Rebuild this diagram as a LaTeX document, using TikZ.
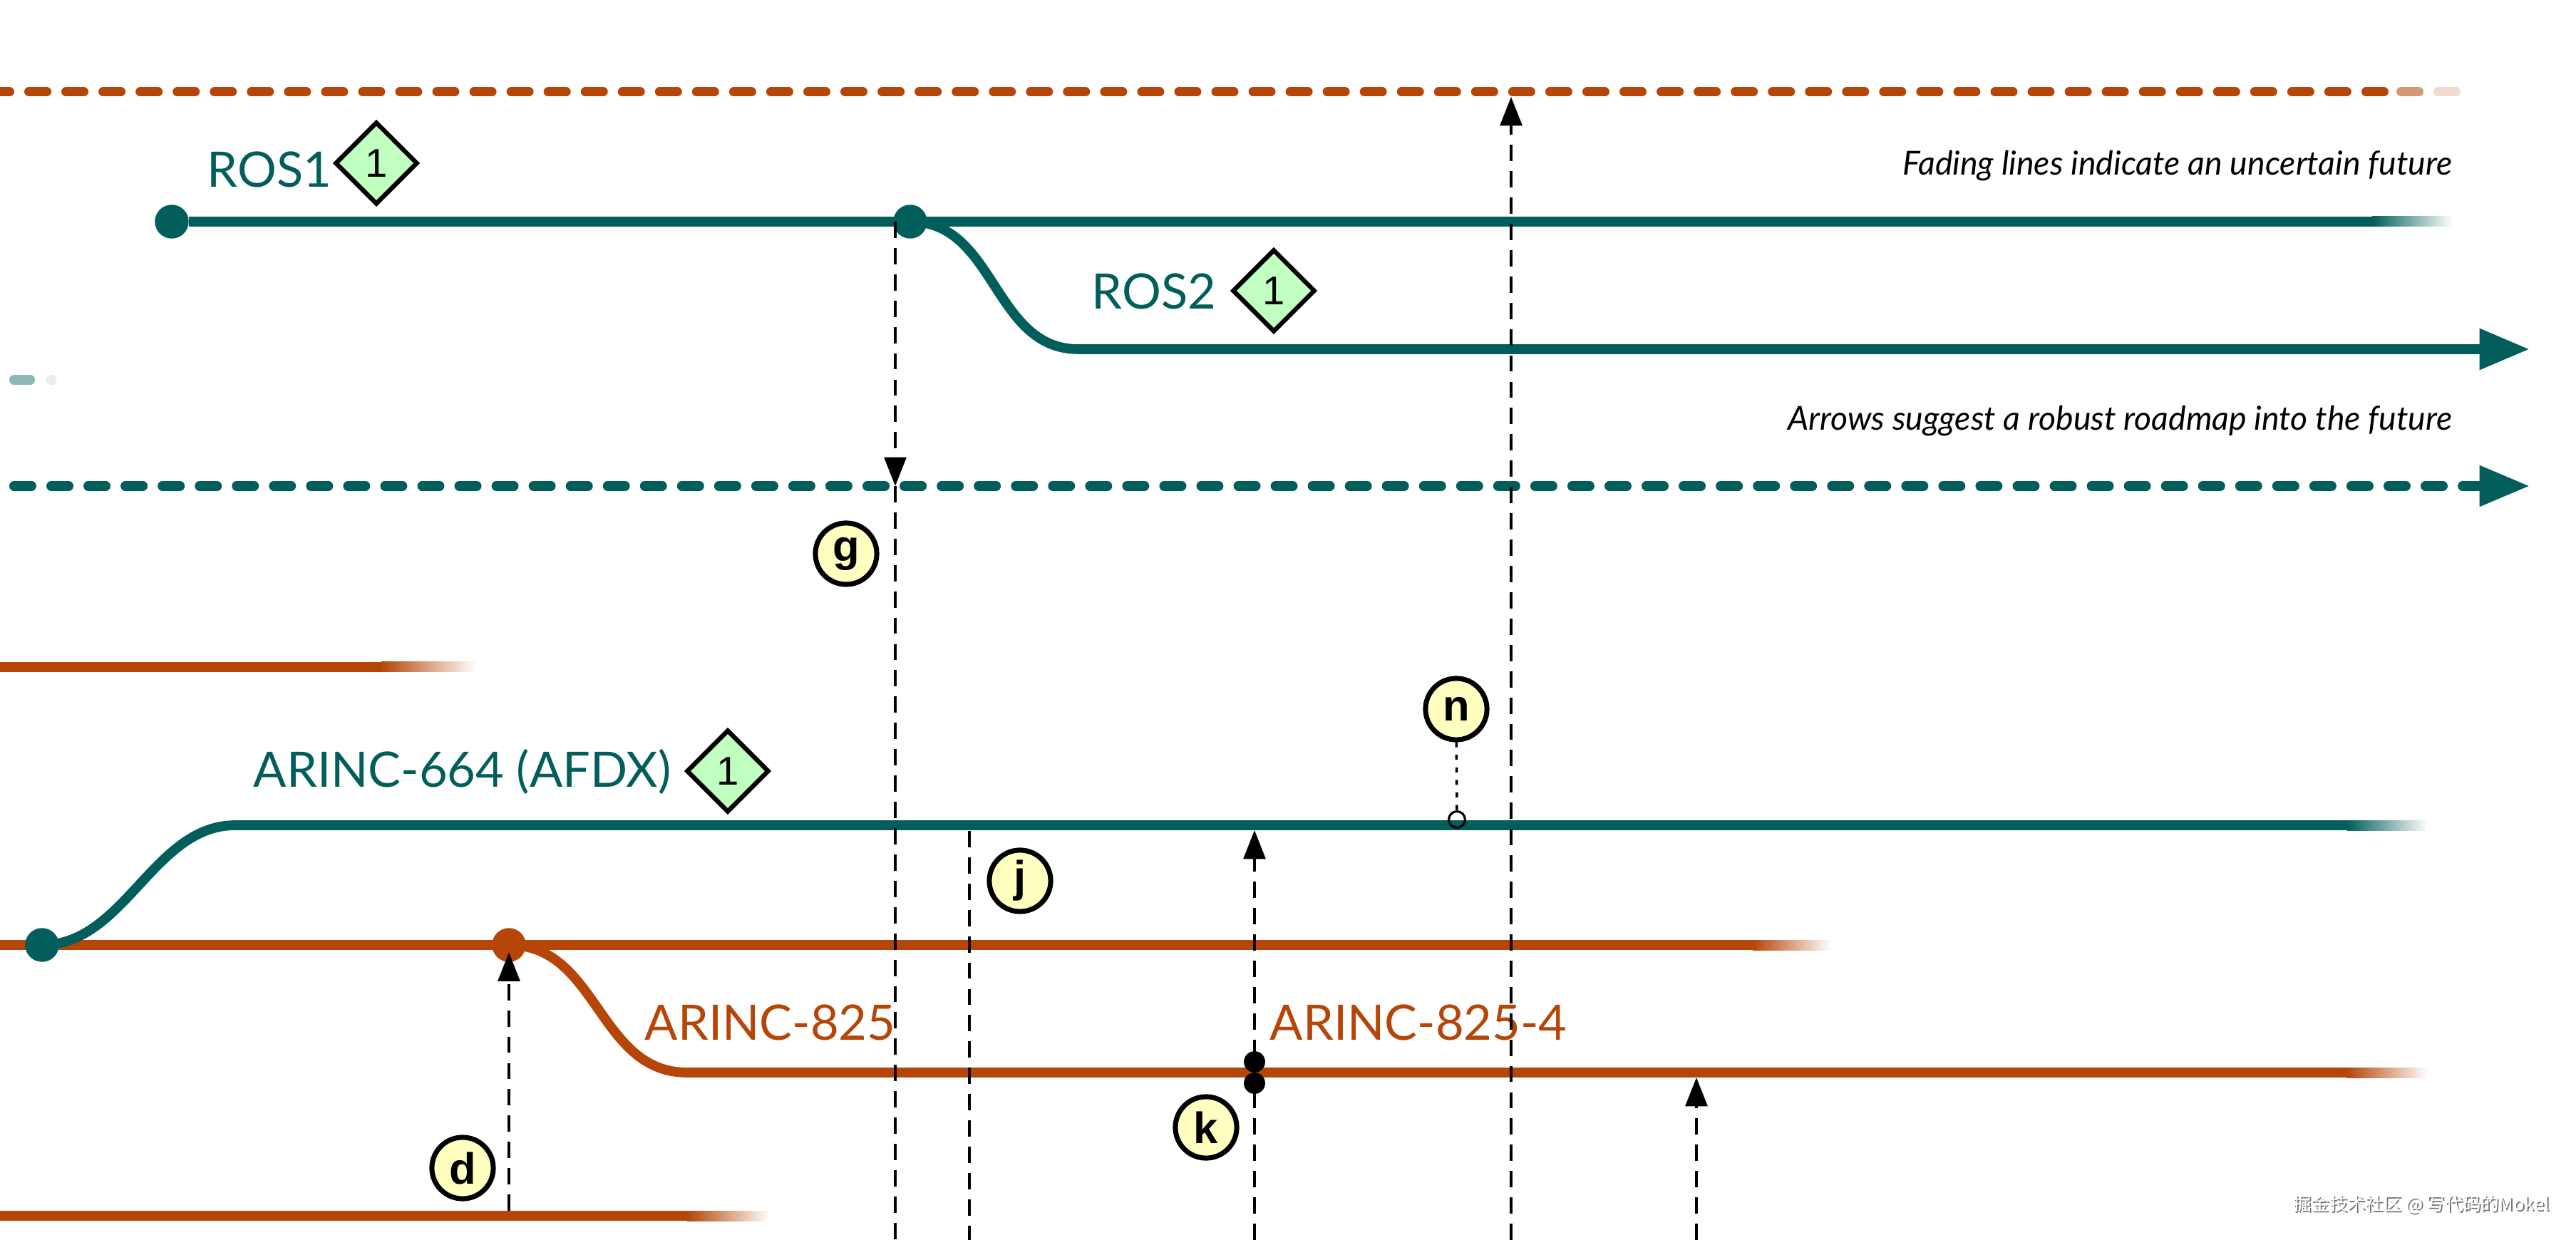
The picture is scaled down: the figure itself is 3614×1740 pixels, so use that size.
\documentclass[tikz,border=0pt]{standalone}
\usepackage{fontspec}
\setmainfont{Lato}
\newfontfamily\tagfont{Liberation Sans}
\newfontfamily\cjkfont{Noto Sans CJK SC}
\usetikzlibrary{arrows.meta,shapes.geometric}

\definecolor{rosteal}{RGB}{2,94,90}
\definecolor{canorange}{RGB}{181,70,8}
\definecolor{tagyellow}{RGB}{255,255,192}
\definecolor{badgegreen}{RGB}{192,255,192}

\tikzset{
  track/.style={line width=3.9pt},
  blip/.style={line width=3.7pt, line cap=round},
  future/.style={blip, dash pattern=on 7.1pt off 7.7pt},
  hub/.style={circle, fill, inner sep=0pt, minimum size=13.5pt},
  link/.style={black, line width=1pt, dash pattern=on 6.5pt off 4pt},
  linkto/.style={link, -{Triangle[length=11.5pt,width=8.8pt]}},
  bigtip/.style={-{Triangle[length=20pt,width=15.5pt]}},
  tag/.style={circle, draw, line width=2pt, fill=tagyellow, inner sep=0pt,
    minimum size=24.5pt, font=\tagfont\bfseries\fontsize{17.5}{17.5}\selectfont},
  badge/.style={diamond, draw, line width=1.8pt, fill=badgegreen, inner sep=0pt,
    minimum size=33pt, font=\tagfont\fontsize{16}{16}\selectfont},
  stdname/.style={anchor=base west, inner sep=0pt, font=\fontsize{19.5}{20}\selectfont},
  note/.style={anchor=base east, inner sep=0pt, font=\itshape\fontsize{13.2}{14}\selectfont},
  fadeteal/.style={left color=rosteal, right color=white},
  fadeorange/.style={left color=canorange, right color=white},
}

\begin{document}
\begin{tikzpicture}[x=0.01cm, y=-0.01cm]
\useasboundingbox (0,0) rectangle (3614,1740);

% uncertain future, top
\coordinate (futA) at (-11.5,129);
\coordinate (futB) at (3350,129);
\draw[future, canorange] (futA) -- (futB);
\draw[blip, canorange!55] (3368.5,129) -- (3393.5,129);
\draw[blip, canorange!20] (3420.5,129) -- (3445.5,129);

% ROS1 and ROS2
\coordinate (ros1fade) at (3328,311);
\coordinate (ros2in) at (1513,490);
\coordinate (ros2end) at (3549,490);
\node[hub, rosteal] (ros1) at (241,311) {};
\node[hub, rosteal] (rosfork) at (1277,311) {};
\draw[track, rosteal] (ros1) -- (ros1fade);
\shade[fadeteal] (3328,304) rectangle (3441,318);
\draw[track, rosteal, bigtip] (rosfork.center) .. controls (1397,311) and (1393,490) .. (ros2in) -- (ros2end);

\node[stdname, rosteal] (ros1name) at (290,263) {ROS1};
\node[badge] (ros1badge) at (528,229) {1};
\node[stdname, rosteal] (ros2name) at (1531,434) {ROS2};
\node[badge] (ros2badge) at (1787,408) {1};

\node[note] (fadenote) at (3441,246) {Fading lines indicate an uncertain future};
\node[note] (arrownote) at (3441,604) {Arrows suggest a robust roadmap into the future};

% robust future
\draw[blip, rosteal!45] (19.5,533) -- (42.5,533);
\draw[blip, rosteal!10] (71,533) -- (73,533);
\coordinate (roadA) at (19.5,682);
\coordinate (roadB) at (3549,682);
\draw[future, rosteal, bigtip] (roadA) -- (roadB);

% old orange line
\coordinate (oldA) at (0,936);
\coordinate (oldfade) at (535,936);
\draw[track, canorange] (oldA) -- (oldfade);
\shade[fadeorange] (535,929) rectangle (668,943);

% ARINC
\coordinate (canA) at (0,1326);
\coordinate (canfade) at (2459,1326);
\draw[track, canorange] (canA) -- (canfade);
\shade[fadeorange] (2459,1319) rectangle (2569,1333);

\coordinate (afdxin) at (330,1158);
\coordinate (afdxfade) at (3293,1158);
\draw[track, rosteal] (59,1326) .. controls (175,1326) and (215,1158) .. (afdxin) -- (afdxfade);
\shade[fadeteal] (3293,1151) rectangle (3406,1165);
\node[hub, rosteal] (afdxdot) at (59,1326) {};

\coordinate (can825in) at (964,1505);
\coordinate (can825fade) at (3293,1505);
\node[hub, canorange] (candot) at (714,1326) {};
\draw[track, canorange] (candot.center) .. controls (839,1326) and (839,1505) .. (can825in) -- (can825fade);
\shade[fadeorange] (3293,1498) rectangle (3406,1512);

\coordinate (baseA) at (0,1706);
\coordinate (basefade) at (964,1706);
\draw[track, canorange] (baseA) -- (basefade);
\shade[fadeorange] (964,1699) rectangle (1080,1713);

\node[stdname, rosteal] (afdxname) at (355,1104) {ARINC-664 (AFDX)};
\node[badge] (afdxbadge) at (1021,1082) {1};
\node[stdname, canorange] (can825name) at (904,1459) {ARINC-825};
\node[stdname, canorange] (can8254name) at (1781,1459) {ARINC-825-4};

% dashed links
\coordinate (gtop) at (1256,311);
\coordinate (groad) at (1256,682);
\coordinate (gfoot) at (1256,1740);
\draw[linkto] (gtop) -- (groad);
\draw[link] (groad) -- (gfoot);

\coordinate (jtop) at (1360,1166);
\coordinate (jfoot) at (1360,1740);
\draw[link] (jtop) -- (jfoot);

\coordinate (ktop) at (1760,1158);
\coordinate (kfoot) at (1760,1740);
\draw[linkto, shorten >=2pt] (kfoot) -- (ktop);
\node[hub, black, minimum size=8.5pt] (kup) at (1760,1490) {};
\node[hub, black, minimum size=8.5pt] (kdown) at (1760,1520) {};

\coordinate (ntop) at (2120,129);
\coordinate (nfoot) at (2120,1740);
\draw[linkto, shorten >=2pt] (nfoot) -- (ntop);

\coordinate (ctop) at (2380,1505);
\coordinate (cfoot) at (2380,1740);
\draw[linkto, shorten >=2pt] (cfoot) -- (ctop);

\coordinate (dfoot) at (714,1699);
\draw[linkto, shorten >=3pt] (dfoot) -- (candot.center);

% tags
\node[tag] (g) at (1187,777) {g};
\node[tag] (j) at (1431,1236) {j};
\node[tag] (d) at (649,1639) {d};
\node[tag] (k) at (1692,1582) {k};
\node[tag] (n) at (2043,995) {n};
\node[circle, draw, line width=0.9pt, inner sep=0pt, minimum size=6.5pt] (nmark) at (2044,1150) {};
\draw[line width=1pt, dash pattern=on 2pt off 3pt] (n) -- (nmark);

\node[font=\cjkfont\fontsize{7.2}{8}\selectfont, text=black!55] (wmshadow) at (3399,1692) {掘金技术社区 @ 写代码的Mokel};
\node[font=\cjkfont\fontsize{7.2}{8}\selectfont, text=white] (wm) at (3397,1690) {掘金技术社区 @ 写代码的Mokel};

\end{tikzpicture}
\end{document}
